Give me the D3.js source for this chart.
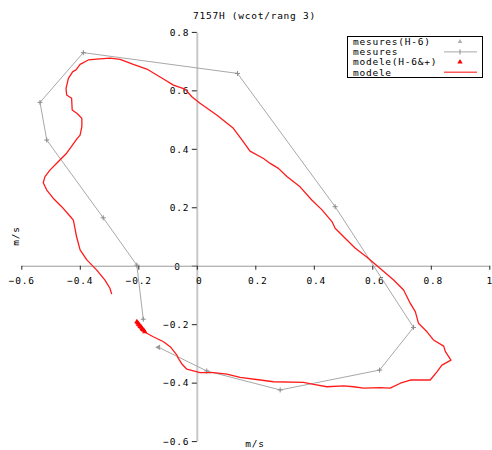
<!DOCTYPE html>
<html>
<head>
<meta charset="utf-8">
<script src="https://cdn.jsdelivr.net/npm/d3@7"></script>
<style>
  html, body { margin: 0; padding: 0; background: #fff; }
  svg { display: block; }
  text { font-family: "DejaVu Sans Mono", monospace; font-size: 9.5px; letter-spacing: 0.75px; fill: #000; }
</style>
</head>
<body>
<svg id="chart" width="492" height="450"></svg>
<script>
// Hodograph: current velocity components (u, v) in m/s
const title = "7157H (wcot/rang 3)";
const axisUnit = "m/s";
const xTicks = [-0.6, -0.4, -0.2, 0, 0.2, 0.4, 0.6, 0.8, 1];
const yTicks = [-0.6, -0.4, -0.2, 0, 0.2, 0.4, 0.6, 0.8];
const legendLabels = ["mesures(H-6)", "mesures", "modele(H-6&+)", "modele"];

// measured hourly points, H-6 first
const measU = [-0.131, 0.034, 0.285, 0.625, 0.741, 0.473, 0.139, -0.388, -0.536, -0.513, -0.320, -0.205, -0.183];
const measV = [-0.279, -0.360, -0.425, -0.357, -0.211, 0.202, 0.658, 0.729, 0.559, 0.430, 0.164, 0.002, -0.183];

// model trajectory
const modelU = [-0.291, -0.297, -0.314, -0.342, -0.376, -0.399, -0.411, -0.422, -0.434, -0.462,
  -0.491, -0.513, -0.525, -0.519, -0.502, -0.474, -0.445, -0.427, -0.410, -0.399,
  -0.393, -0.393, -0.409, -0.426, -0.428, -0.445, -0.447, -0.439, -0.424, -0.413,
  -0.399, -0.371, -0.331, -0.297, -0.262, -0.217, -0.171, -0.114, -0.080, -0.040,
  -0.017, 0.011, 0.068, 0.125, 0.155, 0.182, 0.228, 0.251, 0.279, 0.308,
  0.353, 0.393, 0.428, 0.462, 0.473, 0.502, 0.542, 0.582, 0.604, 0.633,
  0.673, 0.707, 0.730, 0.747, 0.758, 0.787, 0.809, 0.844, 0.850, 0.869,
  0.838, 0.821, 0.798, 0.730, 0.696, 0.661, 0.627, 0.570, 0.536, 0.502,
  0.445, 0.399, 0.365, 0.262, 0.217, 0.148, 0.103, 0.057, 0.011, -0.034,
  -0.051, -0.063, -0.068, -0.091, -0.114, -0.149, -0.171, -0.187, -0.197, -0.205];
const modelV = [-0.097, -0.077, -0.049, -0.015, 0.020, 0.054, 0.099, 0.156, 0.170, 0.202,
  0.231, 0.259, 0.284, 0.305, 0.327, 0.356, 0.385, 0.410, 0.434, 0.447,
  0.476, 0.504, 0.521, 0.533, 0.573, 0.584, 0.607, 0.641, 0.664, 0.670,
  0.689, 0.704, 0.708, 0.710, 0.706, 0.689, 0.673, 0.639, 0.618, 0.604,
  0.578, 0.556, 0.516, 0.470, 0.430, 0.392, 0.367, 0.350, 0.333, 0.305,
  0.270, 0.225, 0.191, 0.151, 0.128, 0.099, 0.060, 0.029, 0.010, -0.015,
  -0.049, -0.083, -0.129, -0.157, -0.197, -0.226, -0.254, -0.275, -0.294, -0.323,
  -0.340, -0.363, -0.391, -0.391, -0.402, -0.419, -0.417, -0.419, -0.414, -0.411,
  -0.414, -0.406, -0.399, -0.397, -0.391, -0.382, -0.371, -0.366, -0.366, -0.354,
  -0.336, -0.317, -0.306, -0.277, -0.260, -0.243, -0.231, -0.217, -0.203, -0.192];

// model points from H-6 onward
const modelH6U = [-0.205, -0.202, -0.200, -0.196, -0.194, -0.190, -0.187, -0.185, -0.181, -0.178];
const modelH6V = [-0.192, -0.195, -0.200, -0.203, -0.208, -0.210, -0.215, -0.218, -0.221, -0.226];

const svg = d3.select("#chart");
const x = d3.scaleLinear().domain([-0.6, 1]).range([21.3, 489.3]);
const y = d3.scaleLinear().domain([-0.6, 0.8]).range([441.1, 31.9]);

const fmt = d => d === 0 ? "0" : d3.format(".1f")(d).replace("1.0", "1");

// x axis through v = 0
const gx = svg.append("g")
  .attr("transform", `translate(0,${y(0)})`)
  .call(d3.axisBottom(x).tickValues(xTicks).tickFormat(fmt).tickSize(4).tickSizeOuter(0));
gx.select(".domain").attr("stroke", "#9a9a9a").attr("stroke-width", 1);
gx.selectAll(".tick line").attr("stroke", "#222");
gx.selectAll(".tick text")
  .attr("y", 15).attr("dy", "0.35em").attr("dx", d => (d >= 0 && d < 1) ? 2 : 0)
  .attr("font-family", null).attr("font-size", null);

// y axis through u = 0
const gy = svg.append("g")
  .attr("transform", `translate(${x(0)},0)`)
  .call(d3.axisLeft(y).tickValues(yTicks).tickFormat(fmt).tickSize(5).tickSizeOuter(0));
gy.select(".domain").attr("stroke", "#c8c8c8").attr("stroke-width", 2);
gy.selectAll(".tick line").attr("stroke", "#222");
gy.selectAll(".tick text")
  .attr("x", d => d === 0 ? -16 : -7.7).attr("dy", "0.35em")
  .attr("font-family", null).attr("font-size", null);
// the horizontal axis line is drawn over the vertical one
gx.raise();

// measured polyline with + markers
const meas = measU.map((u, i) => [u, measV[i]]);
const line = d3.line().x(d => x(d[0])).y(d => y(d[1]));
svg.append("path").datum(meas)
  .attr("d", line).attr("fill", "none").attr("stroke", "#a8a8a8").attr("stroke-width", 1);

const plusShape = {
  draw(ctx, s) { const r = Math.sqrt(s) / 2; ctx.moveTo(-r, 0); ctx.lineTo(r, 0); ctx.moveTo(0, -r); ctx.lineTo(0, r); }
};
svg.selectAll(".meas-pt").data(meas.slice(1)).join("path")
  .attr("transform", d => `translate(${x(d[0])},${y(d[1])})`)
  .attr("d", d3.symbol().type(plusShape).size(25))
  .attr("stroke", "#8a8a8a").attr("stroke-width", 1).attr("fill", "none");

// H-6 measurement marker
svg.append("path")
  .attr("transform", `translate(${x(measU[0])},${y(measV[0])}) rotate(-90)`)
  .attr("d", d3.symbol().type(d3.symbolTriangle).size(14))
  .attr("fill", "#9a9a9a");

// model curve
const model = modelU.map((u, i) => [u, modelV[i]]);
svg.append("path").datum(model)
  .attr("d", line).attr("fill", "none").attr("stroke", "#ff1a1a").attr("stroke-width", 1.3)
  .attr("stroke-linejoin", "round");

// model H-6 onward triangles
const modelH6 = modelH6U.map((u, i) => [u, modelH6V[i]]);
svg.selectAll(".mh6").data(modelH6).join("path")
  .attr("transform", d => `translate(${x(d[0])},${y(d[1])})`)
  .attr("d", d3.symbol().type(d3.symbolTriangle).size(12))
  .attr("fill", "#ff0000");

// title and axis units
svg.append("text").attr("x", 254.5).attr("y", 15.7).attr("dy", "0.35em")
  .attr("text-anchor", "middle").text(title);
svg.append("text").attr("x", 255).attr("y", 443.5).attr("dy", "0.35em")
  .attr("text-anchor", "middle").text(axisUnit);
svg.append("text").attr("transform", "translate(15.7,236) rotate(-90)")
  .attr("dy", "0.35em").attr("text-anchor", "middle").text(axisUnit);

// legend
const lg = svg.append("g");
lg.append("rect").attr("x", 347.5).attr("y", 36.5).attr("width", 135).attr("height", 41)
  .attr("fill", "#fff").attr("stroke", "#000").attr("stroke-width", 1);
const rowY = [41.7, 51.9, 62.1, 72.3];
lg.selectAll("text.lbl").data(legendLabels).join("text")
  .attr("class", "lbl").attr("x", 353).attr("y", (d, i) => rowY[i]).attr("dy", "0.35em").text(d => d);
const symX = 460;
lg.append("path").attr("transform", `translate(${symX},${rowY[0]})`)
  .attr("d", d3.symbol().type(d3.symbolTriangle).size(10)).attr("fill", "#b0b0b0");
lg.append("line").attr("x1", 444).attr("x2", 477).attr("y1", rowY[1]).attr("y2", rowY[1])
  .attr("stroke", "#a8a8a8").attr("stroke-width", 1);
lg.append("line").attr("x1", symX).attr("x2", symX).attr("y1", rowY[1] - 2.5).attr("y2", rowY[1] + 2.5)
  .attr("stroke", "#8a8a8a").attr("stroke-width", 1);
lg.append("path").attr("transform", `translate(${symX},${rowY[2]})`)
  .attr("d", d3.symbol().type(d3.symbolTriangle).size(12)).attr("fill", "#ff0000");
lg.append("line").attr("x1", 444).attr("x2", 477).attr("y1", rowY[3]).attr("y2", rowY[3])
  .attr("stroke", "#ff5a5a").attr("stroke-width", 1.5);
</script>
</body>
</html>
